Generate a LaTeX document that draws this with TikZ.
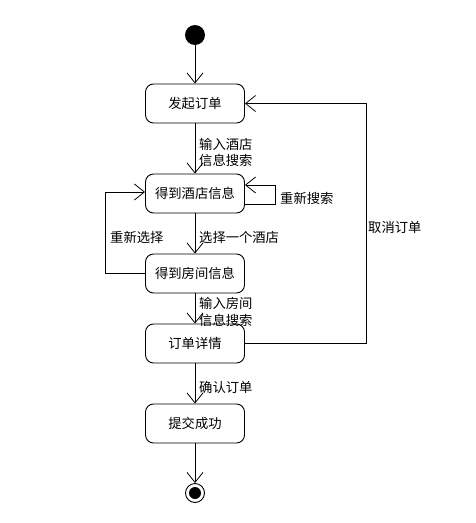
\documentclass[tikz,border=0pt]{standalone}
\usepackage{fontspec}
\setmainfont{Noto Sans CJK SC}
\usetikzlibrary{arrows.meta}
\begin{document}
\begin{tikzpicture}[x=1pt,y=-1pt,
  statebox/.style={draw,line width=0.9pt,rounded corners=8pt,minimum width=99pt,minimum height=39pt,inner sep=0pt,font=\fontsize{13.3}{15}\selectfont},
  lbl/.style={anchor=west,inner sep=0pt,font=\fontsize{13.3}{15}\selectfont},
  arr/.style={line width=0.8pt,-{Straight Barb[length=10pt,width=16pt,line width=0.8pt]}}]
\useasboundingbox (0,0) rectangle (476,523);
\node[circle,fill=black,minimum size=20pt,inner sep=0pt] (start) at (195,35) {};
\node[statebox] (s1) at (195,103.5) {发起订单};
\node[statebox] (s2) at (195,193.5) {得到酒店信息};
\node[statebox] (s3) at (195,273.5) {得到房间信息};
\node[statebox] (s4) at (195,343.5) {订单详情};
\node[statebox] (s5) at (195,423.5) {提交成功};
\node[circle,draw,line width=0.9pt,minimum size=19pt,inner sep=0pt] (end) at (195,493) {};
\fill (end.center) circle (6pt);

\draw[arr] (start) -- (s1);
\draw[arr] (s1) -- (s2);
\draw[arr] (s2) -- (s3);
\draw[arr] (s3) -- (s4);
\draw[arr] (s4) -- (s5);
\draw[arr] (s5) -- (end);

\coordinate (r1) at (275,204);
\coordinate (r2) at (275,185);
\draw[arr] (s2.east |- r1) -- (r1) -- (r2) -- (s2.east |- r2);

\coordinate (l1) at (105,273.5);
\coordinate (l2) at (105,192);
\draw[arr] (s3.west) -- (l1) -- (l2) -- (s2.west |- l2);

\coordinate (c1) at (366,343.5);
\coordinate (c2) at (366,103.5);
\draw[arr] (s4.east) -- (c1) -- (c2) -- (s1.east);

\node[lbl] (t1) at (199,144) {输入酒店};
\node[lbl] (t2) at (199,160) {信息搜索};
\node[lbl] (t3) at (199,237) {选择一个酒店};
\node[lbl] (t4) at (110,237) {重新选择};
\node[lbl] (t5) at (280,198) {重新搜索};
\node[lbl] (t6) at (199,303) {输入房间};
\node[lbl] (t7) at (199,320) {信息搜索};
\node[lbl] (t8) at (199,387) {确认订单};
\node[lbl] (t9) at (368,227) {取消订单};
\end{tikzpicture}
\end{document}
